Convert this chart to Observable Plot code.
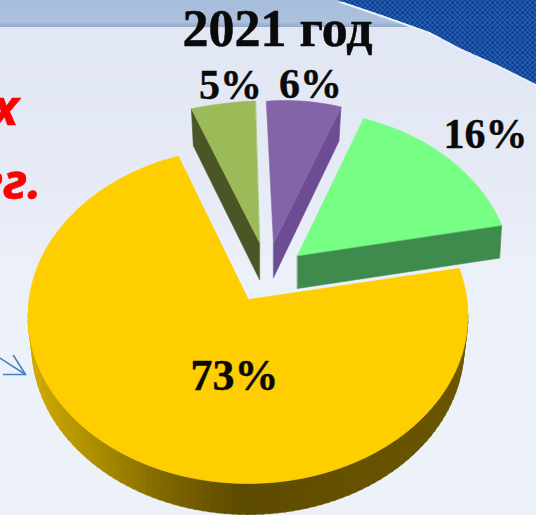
<!DOCTYPE html>
<html lang="ru">
<head>
<meta charset="utf-8">
<title>2021 год</title>
<script src="https://cdn.jsdelivr.net/npm/d3@7"></script>
<script src="https://cdn.jsdelivr.net/npm/@observablehq/plot@0.6"></script>
<style>
  html, body { margin: 0; padding: 0; width: 536px; height: 515px; overflow: hidden; }
  body { position: relative; background: linear-gradient(180deg, #e0e6f2 0px, #e6ebf6 200px, #edf2fa 300px, #edf1f8 515px); }
  .band { position: absolute; left: 0; top: 0; width: 536px; height: 27px;
    background: linear-gradient(180deg, #a5bcdb 0%, #adc1dd 80%, #93a9c9 100%); }
  .glow, .corner { position: absolute; left: 0; top: 0; width: 536px; height: 100px;
    clip-path: polygon(338px 0, 385px 16px, 430px 32px, 460px 48px, 500px 66px, 536px 84px, 536px 0); }
  .glow { background: #e6f0fc; transform: translate(-1px, 2px); }
  .corner { background-color: #2564b8;
    background-image: radial-gradient(circle, #123f90 1.2px, transparent 1.7px), radial-gradient(circle, #123f90 1.2px, transparent 1.7px);
    background-size: 5px 5px; background-position: 0 0, 2.5px 2.5px; }
  #chart { position: absolute; left: 0; top: 0; }
  svg { display: block; }
</style>
</head>
<body>
<div class="band"></div>
<div class="glow"></div>
<div class="corner"></div>
<div id="chart"></div>
<script>
// Values
const categories = ["light green", "purple", "green", "yellow"];
const shares = [5, 6, 16, 73];
const shareLabels = ["5%", "6%", "16%", "73%"];
const titleText = "2021 год";
const redLines = ["х", "гг."];

// Look of each slice
const topColors = ["#9bbb59", "#8364a8", "#77ff85", "#ffce00"];
const sideColors = ["#4a5626", "#6c4c92", "#3f8a4d", null];
const rimStops = ["#d0aa00", "#a88a00", "#7c6400", "#5c4a00", "#655100", "#6a5500"];

// Exploded, tilted layout of each slice
const firstAngle = -23.5;
const apexX = [259, 273, 297, 248];
const apexY = [242, 243, 255, 299];
const centerX = [275, 285, 297, 247.5];
const centerY = [200, 267, 277, 315];
const radiusX = [211, 200, 215, 220];
const radiusY = [100, 167, 167, 168];
const depths = [37, 34, 33, 31];
const sideEdge = ["start", "end", "end", null];
const nudgeStart = [0, 0, 1.8, 0];
const nudgeEnd = [0, 0, -2, 5];

const W = 536, H = 515;
const rad = Math.PI / 180;
const rows = [];
function push(id, color, pts) { for (const [x, y] of pts) rows.push({id, color, x, y}); }

let cursor = firstAngle;
const slices = shares.map((s, i) => {
  const a0 = cursor + nudgeStart[i], a1 = cursor + s * 3.6 + nudgeEnd[i];
  cursor += s * 3.6;
  const at = a => [centerX[i] + radiusX[i] * Math.sin(a * rad), centerY[i] - radiusY[i] * Math.cos(a * rad)];
  const n = Math.ceil((a1 - a0) / 2);
  const arc = d3.range(n + 1).map(k => at(a0 + (a1 - a0) * k / n));
  return {i, a0, a1, at, arc};
});

// yellow rim, drawn in short strips so its shade can follow the curve
{
  const i = 3, s = slices[3];
  const lowerX = 216, lowerY = 168, lowerC = centerY[i] + depths[i];
  const low = a => [centerX[i] + lowerX * Math.sin(a * rad), lowerC - lowerY * Math.cos(a * rad)];
  const shade = d3.scaleLinear().domain([30, 100, 170, 240, 350, 470]).range(rimStops).clamp(true);
  for (let a = 90; a < 270; a += 2) {
    const pts = [s.at(a), s.at(a + 2.4), low(a + 2.4), low(a)];
    push("rim" + a, d3.color(shade(s.at(a + 1)[0])).formatHex(), pts);
  }
  push("top3", topColors[3], [[apexX[3], apexY[3]], ...s.arc]);
}
for (const i of [0, 1, 2]) {
  const s = slices[i], d = depths[i];
  const edge = sideEdge[i] === "start" ? s.arc[0] : s.arc[s.arc.length - 1];
  push("side" + i, sideColors[i], [[apexX[i], apexY[i]], edge, [edge[0] - (i ? 2 : -2), edge[1] + d], [apexX[i], apexY[i] + d]]);
  push("top" + i, topColors[i], [[apexX[i], apexY[i]], ...s.arc]);
}

const labelX = [230, 310, 485, 234];
const labelY = [85, 84, 134, 375];
const labelSize = [42, 42, 42, 44];
const labels = shareLabels.map((t, i) => ({t, x: labelX[i], y: labelY[i], s: labelSize[i]}));

const arrowParts = [
  {id: "shaft", x: -3, y: 356}, {id: "shaft", x: 25, y: 374},
  {id: "head", x: 13, y: 355}, {id: "head", x: 25, y: 374}, {id: "head", x: 3, y: 374}
];

const chart = Plot.plot({
  width: W, height: H,
  margin: 0,
  x: {domain: [0, W], range: [0, W], axis: null},
  y: {domain: [0, H], range: [0, H], axis: null},
  style: {background: "transparent", overflow: "hidden"},
  marks: [
    Plot.line(arrowParts, {x: "x", y: "y", z: "id", stroke: "#4a7fc4", strokeWidth: 1.6, fill: "none"}),
    Plot.line(rows, {x: "x", y: "y", z: "id", fill: d => d.color, stroke: d => d.color, strokeWidth: 0.6, curve: "linear-closed"}),
    Plot.text([titleText], {x: 277, y: 29, text: d => d, fontFamily: "Liberation Serif", fontWeight: "bold", fontSize: 52, fill: "#0a0a0a", stroke: "#0a0a0a", strokeWidth: 0.5, lineAnchor: "middle"}),
    Plot.text(labels, {x: "x", y: "y", text: "t", fontSize: d => d.s, fontFamily: "Liberation Serif", fontWeight: "bold", fill: "#0a0a0a", stroke: "#0a0a0a", strokeWidth: 0.4, lineAnchor: "middle"}),
    Plot.text([redLines[0]], {x: 18, y: 108, text: d => d, textAnchor: "end", fontFamily: "Open Sans", fontWeight: "bold", fontStyle: "italic", fontSize: 50, fill: "#ff0000", stroke: "#ff0000", strokeWidth: 0.6, lineAnchor: "middle"}),
    Plot.text([redLines[1]], {x: 41, y: 182, text: d => d, textAnchor: "end", fontFamily: "Open Sans", fontWeight: "bold", fontStyle: "italic", fontSize: 50, fill: "#ff0000", stroke: "#ff0000", strokeWidth: 0.6, lineAnchor: "middle"})
  ]
});
document.getElementById("chart").append(chart);
</script>
</body>
</html>
